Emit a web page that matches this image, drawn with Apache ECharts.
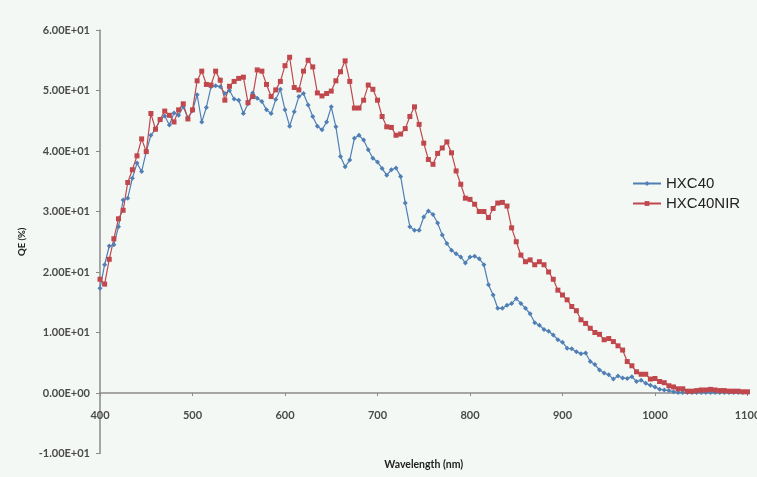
<!DOCTYPE html>
<html>
<head>
<meta charset="utf-8">
<script src="https://cdn.jsdelivr.net/npm/echarts@6/dist/echarts.min.js"></script>
<style>
html,body{margin:0;padding:0;background:#ffffff;}
#chart{position:absolute;left:0;top:0;width:757px;height:477px;}
</style>
</head>
<body>
<div id="chart"></div>
<script>
// Wavelength (nm)
const wavelengths = [
 400,405,410,415,420,425,430,435,440,445,
 450,455,460,465,470,475,480,485,490,495,
 500,505,510,515,520,525,530,535,540,545,
 550,555,560,565,570,575,580,585,590,595,
 600,605,610,615,620,625,630,635,640,645,
 650,655,660,665,670,675,680,685,690,695,
 700,705,710,715,720,725,730,735,740,745,
 750,755,760,765,770,775,780,785,790,795,
 800,805,810,815,820,825,830,835,840,845,
 850,855,860,865,870,875,880,885,890,895,
 900,905,910,915,920,925,930,935,940,945,
 950,955,960,965,970,975,980,985,990,995,
 1000,1005,1010,1015,1020,1025,1030,1035,1040,1045,
 1050,1055,1060,1065,1070,1075,1080,1085,1090,1095,
 1100
];
// QE (%) HXC40
const hxc40 = [
 17.3,21.2,24.3,24.5,27.5,31.9,32.2,35.5,38.0,36.6,
 39.9,42.6,43.6,45.2,45.8,44.3,46.3,45.9,47.3,45.5,
 46.7,49.3,44.8,47.2,50.6,50.8,50.6,49.5,50.0,48.6,
 48.4,46.2,47.8,49.6,48.7,48.2,46.8,46.2,48.5,50.2,
 46.8,44.1,46.5,49.0,49.5,47.6,45.7,44.1,43.5,44.8,
 47.3,44.0,39.1,37.4,38.5,42.1,42.6,41.8,40.2,38.8,
 38.2,37.1,36.0,36.9,37.2,35.8,31.4,27.5,26.9,26.9,
 29.1,30.1,29.5,28.1,26.1,24.7,23.6,23.0,22.5,21.5,
 22.5,22.6,22.2,21.2,17.9,16.2,14.0,14.0,14.5,14.8,
 15.6,14.8,14.0,13.1,11.6,11.2,10.5,10.2,9.6,8.8,
 8.4,7.4,7.3,6.8,6.5,6.6,5.2,4.7,3.8,3.3,
 3.0,2.3,2.8,2.5,2.4,2.7,1.9,2.1,1.6,1.3,
 1.0,0.6,0.5,0.4,0.2,0.1,0.1,0.1,0.1,0.1,
 0.1,0.1,0.1,0.1,0.1,0.1,0.1,0.1,0.1,0.1,
 0.1
];
// QE (%) HXC40NIR
const hxc40nir = [
 18.8,18.0,22.1,25.5,28.8,30.2,34.8,36.9,39.2,42.0,
 39.9,46.2,43.6,45.2,46.6,45.9,44.8,46.8,47.8,45.3,
 46.8,51.6,53.2,51.0,50.9,53.2,51.7,48.4,50.7,51.5,
 52.0,52.2,48.0,49.0,53.4,53.2,51.0,49.0,50.1,51.5,
 54.1,55.5,50.5,50.1,53.2,55.0,53.9,49.6,49.1,49.5,
 49.9,51.6,53.1,54.9,51.5,47.1,47.1,48.4,50.9,50.2,
 48.4,45.7,44.0,43.9,42.6,42.8,43.7,45.7,47.3,44.4,
 41.3,38.6,37.8,39.6,40.5,41.5,39.7,36.7,34.5,32.2,
 32.0,31.2,30.0,30.0,29.0,30.5,31.4,31.5,30.9,27.3,
 25.0,22.8,21.7,22.0,21.2,21.7,21.2,20.0,18.8,17.0,
 16.2,15.4,14.3,13.6,12.1,11.5,10.7,10.0,9.7,8.8,
 9.0,8.5,7.8,7.1,5.2,4.5,3.5,3.1,3.1,2.3,
 2.4,1.9,1.7,1.2,1.0,0.7,0.7,0.3,0.3,0.4,
 0.5,0.5,0.6,0.5,0.4,0.4,0.3,0.3,0.3,0.2,
 0.2
];
const seriesNames = ['HXC40', 'HXC40NIR'];
const xTicks = [400, 500, 600, 700, 800, 900, 1000, 1100];
const yTicks = [-10, 0, 10, 20, 30, 40, 50, 60];

function sci(v) {
  if (v === 0) return '0.00E+00';
  const e = Math.floor(Math.log10(Math.abs(v)) + 1e-9);
  const m = v / Math.pow(10, e);
  const ae = Math.abs(e);
  return m.toFixed(2) + 'E' + (e >= 0 ? '+' : '-') + (ae < 10 ? '0' : '') + ae;
}

const chart = echarts.init(document.getElementById('chart'), null, {renderer: 'canvas'});
const axisFont = {fontFamily: 'Lato', fontWeight: 'bold', fontSize: 11, color: '#4a4a4a'};
chart.setOption({
  backgroundColor: '#f4f8f4',
  animation: false,
  grid: {left: 100, right: 9.5, top: 30, bottom: 23.5, containLabel: false, outerBoundsMode: 'none'},
  legend: {
    orient: 'vertical', left: 627, top: 171, itemGap: 5, itemWidth: 28, itemHeight: 6,
    textStyle: {fontFamily: 'Liberation Sans', fontSize: 15, color: '#222'},
    data: seriesNames
  },
  xAxis: {
    type: 'value', min: xTicks[0], max: xTicks[xTicks.length - 1], interval: 100,
    axisLine: {onZero: true, lineStyle: {color: '#8a8a8a', width: 1.5}},
    axisTick: {show: true, inside: false, length: 3, lineStyle: {color: '#8a8a8a'}},
    axisLabel: Object.assign({margin: -44, formatter: v => String(v)}, axisFont),
    splitLine: {show: false},
    name: 'Wavelength (nm)', nameLocation: 'middle', nameGap: 6,
    nameTextStyle: {fontFamily: 'Lato', fontWeight: 'bold', fontSize: 10.5, color: '#222'}
  },
  yAxis: {
    type: 'value', min: yTicks[0], max: yTicks[yTicks.length - 1], interval: 10,
    axisLine: {show: true, lineStyle: {color: '#8a8a8a', width: 1.5}},
    axisTick: {show: true, length: 4, lineStyle: {color: '#8a8a8a'}},
    axisLabel: Object.assign({margin: 10, formatter: sci}, axisFont),
    splitLine: {show: false},
    name: 'QE (%)', nameLocation: 'middle', nameGap: 73,
    nameTextStyle: {fontFamily: 'Lato', fontWeight: 'bold', fontSize: 9.5, color: '#222'}
  },
  series: [
    {
      name: seriesNames[0], type: 'line',
      data: wavelengths.map((w, i) => [w, hxc40[i]]),
      symbol: 'diamond', symbolSize: 5, showAllSymbol: true,
      lineStyle: {color: '#4f7fb5', width: 1.2},
      itemStyle: {color: '#4f7fb5'}
    },
    {
      name: seriesNames[1], type: 'line',
      data: wavelengths.map((w, i) => [w, hxc40nir[i]]),
      symbol: 'rect', symbolSize: 5, showAllSymbol: true,
      lineStyle: {color: '#c0474c', width: 1.2},
      itemStyle: {color: '#c0474c'}
    }
  ]
});
</script>
</body>
</html>
